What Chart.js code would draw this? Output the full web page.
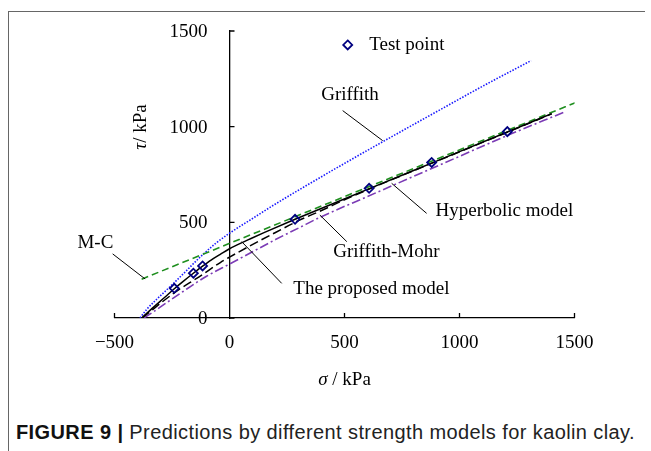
<!DOCTYPE html>
<html>
<head>
<meta charset="utf-8">
<script src="https://cdn.jsdelivr.net/npm/chart.js@4.4.1/dist/chart.umd.min.js"></script>
<style>
  html, body { margin: 0; padding: 0; background: #fff; }
  #wrap { position: relative; width: 651px; height: 451px; overflow: hidden; }
  #frame { position: absolute; left: 8px; top: 11px; width: 636px; height: 450px;
           border-left: 1.5px solid #666; border-top: 1.5px solid #666; }
  canvas { position: absolute; left: 0; top: 0; }
  #caption { position: absolute; left: 16px; top: 421px; white-space: nowrap;
             font-family: "Liberation Sans", Arial, sans-serif; font-size: 20px;
             letter-spacing: 0.4px; color: #222; }
  #caption b { color: #111; }
</style>
</head>
<body>
<div id="wrap">
  <div id="frame"></div>
  <canvas id="chart" width="651" height="400"></canvas>
  <div id="caption"><b>FIGURE 9 |</b> Predictions by different strength models for kaolin clay.</div>
</div>
<script>
// ── Data (σ / kPa, τ / kPa) ─────────────────────────
const sigmaTicks = [-500, 0, 500, 1000, 1500];
const tauTicks = [0, 500, 1000, 1500];

const testSigma = [-240, -157, -117, 285, 607, 879, 1208];
const testTau = [155, 234, 272, 516, 678, 813, 974];

const griffithSigma = [-389, -360, -320, -259, -200, -128, -60, 0, 100, 200, 300, 500, 700, 900, 1100, 1311];
const griffithTau = [0, 45, 94, 163, 232, 318, 390, 443, 520, 596, 668, 808, 944, 1078, 1211, 1345];

const mcSigma = [-382, 1540];
const mcTau = [203, 1143];

const proposedSigma = [-382, -330, -280, -240, -200, -157, -117, -80, -40, 0, 40, 80, 150, 285, 600, 900, 1200, 1401];
const proposedTau = [0, 57, 110, 153, 193, 234, 271, 303, 333, 362, 386, 408, 446, 516, 672, 820, 968, 1068];

const hyperbolicSigma = [-380, -330, -295, -223, -143, -92, -40, 0, 89, 200, 300, 400, 500, 600, 900, 1200, 1401];
const hyperbolicTau = [0, 48, 82, 146, 207, 248, 290, 318, 377, 447, 509, 562, 618, 670, 819, 967, 1067];

const gmSigma = [-372, -330, -300, -200, -143, -100, 0, 100, 200, 300, 393, 600, 800, 1000, 1200, 1460];
const gmTau = [0, 33, 58, 140, 186, 218, 282, 346, 410, 470, 526, 635, 740, 845, 950, 1078];

// annotation text + leader lines, in data units
const notes = [
  { text: 'Griffith', at: [524, 1166], from: [492, 1084], to: [666, 927] },
  { text: 'M-C', at: [-583, 392], from: [-508, 335], to: [-367, 204] },
  { text: 'Hyperbolic model', at: [1195, 559], from: [857, 547], to: [705, 704] },
  { text: 'Griffith-Mohr', at: [682, 345], from: [510, 399], to: [393, 538] },
  { text: 'The proposed model', at: [617, 152], from: [227, 181], to: [53, 399] },
];
const legendAt = [514, 1427];

const pts = (xs, ys) => xs.map((x, i) => ({ x, y: ys[i] }));
const SERIF = '"Liberation Serif", "Times New Roman", serif';

function drawParts(ctx, parts, cx, cy, size) {
  const fontOf = (p) => (p.italic ? 'italic ' : '') + size + 'px ' + SERIF;
  const widths = parts.map((p) => { ctx.font = fontOf(p); return ctx.measureText(p.text).width; });
  let xx = cx - widths.reduce((a, b) => a + b, 0) / 2;
  ctx.textAlign = 'left';
  ctx.textBaseline = 'middle';
  parts.forEach((p, i) => {
    ctx.font = fontOf(p);
    ctx.fillText(p.text, xx, cy);
    xx += widths[i];
  });
}

// ── Axes decorations, labels and notes ──────────────
const figureDecor = {
  id: 'figureDecor',
  afterDraw(chart) {
    const { ctx, chartArea, scales: { x, y } } = chart;
    const x0 = x.getPixelForValue(0);
    ctx.save();
    ctx.strokeStyle = '#000';
    ctx.fillStyle = '#000';
    ctx.lineWidth = 1.3;

    // inward tick marks
    ctx.beginPath();
    x.ticks.forEach((t) => {
      if (t.value === 0) return;
      const px = x.getPixelForValue(t.value);
      ctx.moveTo(px, chartArea.bottom);
      ctx.lineTo(px, chartArea.bottom - 5);
    });
    y.ticks.forEach((t) => {
      const py = y.getPixelForValue(t.value);
      ctx.moveTo(x0, py);
      ctx.lineTo(x0 + 5, py);
    });
    ctx.stroke();

    // y tick labels, set off to the left of the axis
    ctx.font = '19px ' + SERIF;
    ctx.textAlign = 'right';
    ctx.textBaseline = 'middle';
    y.ticks.forEach((t) => ctx.fillText(String(t.value), x0 - 22, y.getPixelForValue(t.value) + 1));

    // axis titles
    drawParts(ctx, [{ text: 'σ', italic: true }, { text: ' / kPa' }], (chartArea.left + chartArea.right) / 2, 380, 19);
    ctx.save();
    ctx.translate(141, 127);
    ctx.rotate(-Math.PI / 2);
    drawParts(ctx, [{ text: 'τ', italic: true }, { text: '/ kPa' }], 0, 0, 19);
    ctx.restore();

    // leaders and model names
    ctx.lineWidth = 1;
    ctx.beginPath();
    notes.forEach((n) => {
      ctx.moveTo(x.getPixelForValue(n.from[0]), y.getPixelForValue(n.from[1]));
      ctx.lineTo(x.getPixelForValue(n.to[0]), y.getPixelForValue(n.to[1]));
    });
    ctx.stroke();
    ctx.font = '19px ' + SERIF;
    ctx.textAlign = 'center';
    ctx.textBaseline = 'middle';
    notes.forEach((n) => ctx.fillText(n.text, x.getPixelForValue(n.at[0]), y.getPixelForValue(n.at[1])));

    // legend
    const lx = x.getPixelForValue(legendAt[0]);
    const ly = y.getPixelForValue(legendAt[1]);
    ctx.strokeStyle = '#000080';
    ctx.lineWidth = 1.8;
    ctx.beginPath();
    ctx.moveTo(lx, ly - 4.5);
    ctx.lineTo(lx + 4.5, ly);
    ctx.lineTo(lx, ly + 4.5);
    ctx.lineTo(lx - 4.5, ly);
    ctx.closePath();
    ctx.stroke();
    ctx.textAlign = 'left';
    ctx.fillText('Test point', lx + 21.5, ly);
    ctx.restore();
  },
};

const line = (label, xs, ys, color, dash, width) => ({
  label,
  data: pts(xs, ys),
  showLine: true,
  borderColor: color,
  borderWidth: width,
  borderDash: dash,
  pointRadius: 0,
  cubicInterpolationMode: 'monotone',
  fill: false,
});

new Chart(document.getElementById('chart'), {
  type: 'scatter',
  data: {
    datasets: [
      {
        label: 'Test point',
        data: pts(testSigma, testTau),
        pointStyle: 'rectRot',
        pointRadius: 4.5,
        pointBorderWidth: 1.8,
        borderColor: '#000080',
        backgroundColor: 'rgba(255,255,255,0)',
      },
      line('The proposed model', proposedSigma, proposedTau, '#000000', [], 1.5),
      line('Hyperbolic model', hyperbolicSigma, hyperbolicTau, '#000000', [9, 4], 1.5),
      line('M-C', mcSigma, mcTau, '#1f8f1f', [7, 4], 1.6),
      line('Griffith-Mohr', gmSigma, gmTau, '#7b3bb5', [9, 3, 2, 3], 1.6),
      line('Griffith', griffithSigma, griffithTau, '#1a1aff', [1.5, 1.5], 1.6),
    ],
  },
  options: {
    responsive: false,
    animation: false,
    layout: { padding: { left: 114.5, right: 76.5, top: 31, bottom: 32 } },
    plugins: { legend: { display: false }, tooltip: { enabled: false } },
    scales: {
      x: {
        type: 'linear',
        min: -500,
        max: 1500,
        grid: { drawOnChartArea: false, drawTicks: false },
        border: { color: '#000', width: 1.3 },
        ticks: {
          stepSize: 500,
          padding: 13.5,
          color: '#000',
          font: { family: SERIF, size: 19 },
          callback: (v) => String(v).replace('-', '\u2212'),
        },
        afterFit: (s) => { s.height = 50; },
      },
      y: {
        type: 'linear',
        position: { x: 0 },
        min: 0,
        max: 1500,
        grid: { drawOnChartArea: false, drawTicks: false },
        border: { color: '#000', width: 1.3 },
        ticks: { display: false, stepSize: 500 },
      },
    },
  },
  plugins: [figureDecor],
});
</script>
</body>
</html>
